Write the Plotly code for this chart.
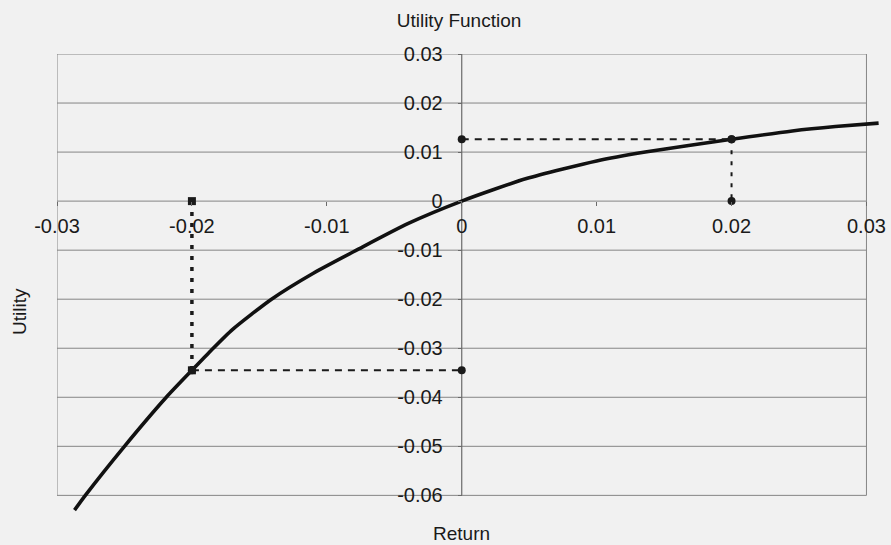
import plotly.graph_objects as go

# ---- data ----
returns = [-0.0287, -0.0279, -0.0250, -0.0219, -0.0200, -0.0186, -0.0170, -0.0141,
           -0.0110, -0.0078, -0.0040, 0.0000, 0.0048, 0.0100, 0.0136, 0.0200,
           0.0245, 0.0277, 0.0309]
utility = [-0.0630, -0.0600, -0.0500, -0.0400, -0.0345, -0.0305, -0.0262, -0.0200,
           -0.0147, -0.0100, -0.0046, 0.0000, 0.0046, 0.0082, 0.0100, 0.0126,
           0.0143, 0.0152, 0.0159]

loss_return = -0.02
loss_utility = -0.0345
gain_return = 0.02
gain_utility = 0.0126

x_ticks = [-0.03, -0.02, -0.01, 0.0, 0.01, 0.02, 0.03]
x_tick_text = ["-0.03", "-0.02", "-0.01", "0", "0.01", "0.02", "0.03"]
y_ticks = [0.03, 0.02, 0.01, 0.0, -0.01, -0.02, -0.03, -0.04, -0.05, -0.06]
y_tick_text = ["0.03", "0.02", "0.01", "0", "-0.01", "-0.02", "-0.03", "-0.04", "-0.05", "-0.06"]

# ---- layout constants ----
X_RANGE = [-0.03, 0.0313]
Y_RANGE = [-0.0638, 0.03]
BG = "#f1f1f1"
GRID = "#858585"
TXT = "#1a1a1a"
FONT = "Liberation Sans, Arial, sans-serif"

fig = go.Figure()

# utility curve
fig.add_trace(go.Scatter(x=returns, y=utility, mode="lines",
                         line=dict(color="#111111", width=3.6, shape="spline", smoothing=0.6),
                         showlegend=False, hoverinfo="skip"))

# loss guide: vertical dotted at -0.02 from 0 down to curve
fig.add_trace(go.Scatter(x=[loss_return, loss_return], y=[0, loss_utility],
                         mode="lines+markers",
                         line=dict(color="#1a1a1a", width=3.5, dash="4px,7px"),
                         marker=dict(color="#1a1a1a", size=8, symbol="square"),
                         showlegend=False, hoverinfo="skip"))
# loss guide: horizontal dashed from curve to y axis
fig.add_trace(go.Scatter(x=[loss_return, 0], y=[loss_utility, loss_utility],
                         mode="lines+markers",
                         line=dict(color="#1a1a1a", width=2, dash="7px,6px"),
                         marker=dict(color="#1a1a1a", size=8),
                         showlegend=False, hoverinfo="skip"))
# gain guide: horizontal dashed from y axis to curve
fig.add_trace(go.Scatter(x=[0, gain_return], y=[gain_utility, gain_utility],
                         mode="lines+markers",
                         line=dict(color="#1a1a1a", width=2, dash="7px,6px"),
                         marker=dict(color="#1a1a1a", size=8),
                         showlegend=False, hoverinfo="skip"))
# gain guide: vertical dashed from curve down to x axis
fig.add_trace(go.Scatter(x=[gain_return, gain_return], y=[gain_utility, 0],
                         mode="lines+markers",
                         line=dict(color="#1a1a1a", width=2, dash="4px,7px"),
                         marker=dict(color="#1a1a1a", size=8),
                         showlegend=False, hoverinfo="skip"))

shapes = []
x0, x1 = x_ticks[0], x_ticks[-1]
y0, y1 = min(y_ticks), max(y_ticks)
for yv in y_ticks:
    shapes.append(dict(type="line", xref="x", yref="y", x0=x0, x1=x1, y0=yv, y1=yv,
                       line=dict(color=GRID, width=1), layer="below"))
for xv in (x0, x1):
    shapes.append(dict(type="line", xref="x", yref="y", x0=xv, x1=xv, y0=y0, y1=y1,
                       line=dict(color=GRID, width=1), layer="below"))
# y axis line at x = 0
shapes.append(dict(type="line", xref="x", yref="y", x0=0, x1=0, y0=y0, y1=y1,
                   line=dict(color="#6a6a6a", width=1.2), layer="below"))

x_pos = (0 - X_RANGE[0]) / (X_RANGE[1] - X_RANGE[0])
y_pos = (0 - Y_RANGE[0]) / (Y_RANGE[1] - Y_RANGE[0])

# y tick at zero nudged by a negligible amount so the label is drawn at the crossing
y_tick_pos = [v if v != 0 else -1e-9 for v in y_ticks]

fig.update_layout(
    width=891, height=545,
    margin=dict(l=57, r=5, t=54, b=31, pad=0),
    paper_bgcolor=BG, plot_bgcolor=BG,
    font=dict(family=FONT, color=TXT, size=20),
    title=dict(text="Utility Function", x=459 / 891, xanchor="center",
               y=1 - 20 / 545, yanchor="middle",
               font=dict(size=19, family=FONT, color=TXT)),
    xaxis=dict(range=X_RANGE, tickvals=x_ticks, ticktext=x_tick_text,
               showgrid=False, zeroline=False, showline=False,
               ticks="outside", ticklen=4, tickcolor="#6a6a6a",
               anchor="free", position=y_pos, ticklabelstandoff=3,
               tickfont=dict(size=20, family=FONT, color=TXT)),
    yaxis=dict(range=Y_RANGE, tickvals=y_tick_pos, ticktext=y_tick_text,
               showgrid=False, zeroline=False, showline=False,
               ticks="outside", ticklen=4, tickcolor="#6a6a6a",
               anchor="free", position=x_pos, ticklabelstandoff=11,
               tickfont=dict(size=20, family=FONT, color=TXT)),
    shapes=shapes,
    annotations=[
        dict(text="Utility", xref="paper", yref="paper", x=0, y=0.5,
             xshift=-38, yshift=-28, textangle=-90, showarrow=False,
             xanchor="center", yanchor="middle",
             font=dict(size=19, family=FONT, color=TXT)),
        dict(text="Return", xref="x", yref="paper", x=0, y=0,
             yshift=-19, showarrow=False, xanchor="center", yanchor="middle",
             font=dict(size=19, family=FONT, color=TXT)),
    ],
)

fig.write_html("out.html")
